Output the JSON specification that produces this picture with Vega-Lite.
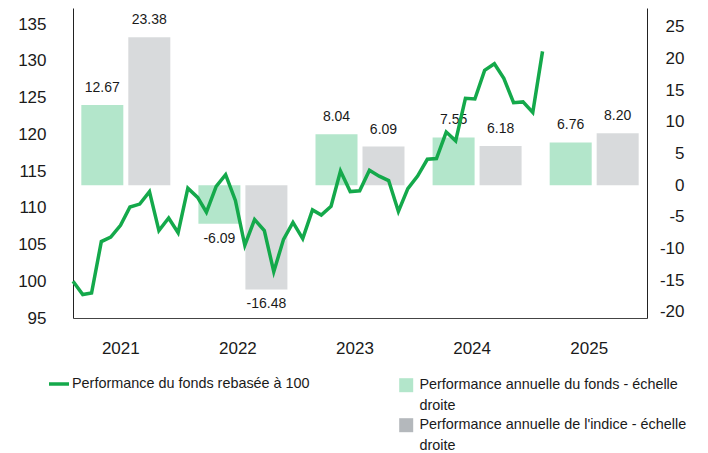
{
  "$schema": "https://vega.github.io/schema/vega-lite/v6.json",
  "width": 574,
  "height": 310,
  "autosize": {"type": "none"},
  "padding": {"left": 73, "top": 8, "right": 61, "bottom": 135},
  "background": "white",
  "datasets": {
    "bars": [
      {"year": "2021", "series": "Performance annuelle du fonds - échelle droite", "value": 12.67},
      {"year": "2021", "series": "Performance annuelle de l'indice - échelle droite", "value": 23.38},
      {"year": "2022", "series": "Performance annuelle du fonds - échelle droite", "value": -6.09},
      {"year": "2022", "series": "Performance annuelle de l'indice - échelle droite", "value": -16.48},
      {"year": "2023", "series": "Performance annuelle du fonds - échelle droite", "value": 8.04},
      {"year": "2023", "series": "Performance annuelle de l'indice - échelle droite", "value": 6.09},
      {"year": "2024", "series": "Performance annuelle du fonds - échelle droite", "value": 7.55},
      {"year": "2024", "series": "Performance annuelle de l'indice - échelle droite", "value": 6.18},
      {"year": "2025", "series": "Performance annuelle du fonds - échelle droite", "value": 6.76},
      {"year": "2025", "series": "Performance annuelle de l'indice - échelle droite", "value": 8.20}
    ],
    "line": [
      {"date": "2020-12-31", "value": 100},
      {"date": "2021-01-31", "value": 98.2},
      {"date": "2021-02-28", "value": 98.4},
      {"date": "2021-03-31", "value": 105.4},
      {"date": "2021-04-30", "value": 106},
      {"date": "2021-05-31", "value": 107.6},
      {"date": "2021-06-30", "value": 110.1},
      {"date": "2021-07-31", "value": 110.5},
      {"date": "2021-08-31", "value": 112.2},
      {"date": "2021-09-30", "value": 106.9},
      {"date": "2021-10-31", "value": 108.6},
      {"date": "2021-11-30", "value": 106.6},
      {"date": "2021-12-31", "value": 112.67},
      {"date": "2022-01-31", "value": 111.4},
      {"date": "2022-02-28", "value": 109.4},
      {"date": "2022-03-31", "value": 112.9},
      {"date": "2022-04-30", "value": 114.5},
      {"date": "2022-05-31", "value": 111},
      {"date": "2022-06-30", "value": 104.9},
      {"date": "2022-07-31", "value": 108.4},
      {"date": "2022-08-31", "value": 106.9},
      {"date": "2022-09-30", "value": 101.3},
      {"date": "2022-10-31", "value": 105.7},
      {"date": "2022-11-30", "value": 108},
      {"date": "2022-12-31", "value": 105.81},
      {"date": "2023-01-31", "value": 109.7},
      {"date": "2023-02-28", "value": 109},
      {"date": "2023-03-31", "value": 110.2},
      {"date": "2023-04-30", "value": 115},
      {"date": "2023-05-31", "value": 112.2},
      {"date": "2023-06-30", "value": 112.3},
      {"date": "2023-07-31", "value": 115.1},
      {"date": "2023-08-31", "value": 114.3},
      {"date": "2023-09-30", "value": 113.7},
      {"date": "2023-10-31", "value": 109.5},
      {"date": "2023-11-30", "value": 112.6},
      {"date": "2023-12-31", "value": 114.31},
      {"date": "2024-01-31", "value": 116.6},
      {"date": "2024-02-29", "value": 116.7},
      {"date": "2024-03-31", "value": 120.3},
      {"date": "2024-04-30", "value": 119.1},
      {"date": "2024-05-31", "value": 124.9},
      {"date": "2024-06-30", "value": 124.8},
      {"date": "2024-07-31", "value": 128.7},
      {"date": "2024-08-31", "value": 129.6},
      {"date": "2024-09-30", "value": 127.6},
      {"date": "2024-10-31", "value": 124.3},
      {"date": "2024-11-30", "value": 124.4},
      {"date": "2024-12-31", "value": 122.97},
      {"date": "2025-01-31", "value": 131.28}
    ]
  },
  "config": {
    "view": {"stroke": null},
    "font": "Liberation Sans",
    "style": {"guide-label": {"lineHeight": 21}},
    "axis": {
      "grid": false,
      "ticks": false,
      "tickSize": 0,
      "domainColor": "#222222",
      "domainWidth": 1,
      "labelColor": "#1a1a1a",
      "labelFont": "Liberation Sans",
      "labelFontSize": 17
    },
    "legend": {
      "labelFont": "Liberation Sans",
      "labelColor": "#1a1a1a",
      "labelFontSize": 14.4,
      "labelLimit": 500,
      "padding": 0
    },
    "locale": {
      "number": {"decimal": ".", "thousands": ",", "grouping": [3], "currency": ["$", ""], "minus": "-"}
    }
  },
  "layer": [
    {
      "data": {"name": "bars"},
      "encoding": {
        "x": {
          "field": "year",
          "type": "nominal",
          "scale": {"paddingInner": 0.24, "paddingOuter": 0.071},
          "axis": {"title": null, "labelAngle": 0, "labelPadding": 22, "labelOffset": -5, "domainColor": "#444444"}
        },
        "xOffset": {
          "field": "series",
          "type": "nominal",
          "scale": {
            "domain": ["Performance annuelle du fonds - échelle droite", "Performance annuelle de l'indice - échelle droite"],
            "paddingInner": 0.106,
            "paddingOuter": 0
          }
        },
        "y": {
          "field": "value",
          "type": "quantitative",
          "scale": {"domain": [-21, 28], "nice": false, "zero": false},
          "axis": {
            "orient": "right",
            "title": null,
            "values": [-20, -15, -10, -5, 0, 5, 10, 15, 20, 25],
            "labelAlign": "right",
            "labelPadding": 37
          }
        }
      },
      "layer": [
        {
          "mark": {"type": "bar"},
          "encoding": {
            "y2": {"datum": 0},
            "fillOpacity": {
              "field": "series",
              "type": "nominal",
              "scale": {
                "domain": ["Performance annuelle du fonds - échelle droite", "Performance annuelle de l'indice - échelle droite"],
                "range": [1, 0.52]
              },
              "legend": null
            },
            "fill": {
              "field": "series",
              "type": "nominal",
              "scale": {
                "domain": ["Performance annuelle du fonds - échelle droite", "Performance annuelle de l'indice - échelle droite"],
                "range": ["#b3e6cb", "#b4b8bc"]
              },
              "legend": {
                "orient": "none",
                "legendX": 326,
                "legendY": 370,
                "title": null,
                "symbolType": "square",
                "symbolSize": 196,
                "symbolStrokeWidth": 0,
                "symbolOpacity": 1,
                "labelOffset": 6,
                "rowPadding": 4,
                "labelExpr": "[slice(datum.label, 0, -7), 'droite']"
              }
            }
          }
        },
        {
          "transform": [{"filter": "datum.value >= 0"}],
          "mark": {"type": "text", "dy": -17, "fontSize": 14, "color": "#1a1a1a", "font": "Liberation Sans"},
          "encoding": {"text": {"field": "value", "type": "quantitative", "format": ".2f"}}
        },
        {
          "transform": [{"filter": "datum.value < 0"}],
          "mark": {"type": "text", "dy": 15, "fontSize": 14, "color": "#1a1a1a", "font": "Liberation Sans"},
          "encoding": {"text": {"field": "value", "type": "quantitative", "format": ".2f"}}
        }
      ]
    },
    {
      "data": {"name": "line"},
      "mark": {"type": "line", "strokeWidth": 3.5, "strokeJoin": "miter"},
      "encoding": {
        "x": {
          "field": "date",
          "type": "temporal",
          "scale": {
            "domain": [{"year": 2020, "month": 12, "date": 31, "utc": true}, {"year": 2025, "month": 12, "date": 29, "utc": true}],
            "nice": false
          },
          "axis": null
        },
        "y": {
          "field": "value",
          "type": "quantitative",
          "scale": {"domain": [95, 137.18], "nice": false, "zero": false},
          "axis": {
            "orient": "left",
            "title": null,
            "values": [95, 100, 105, 110, 115, 120, 125, 130, 135],
            "labelPadding": 27
          }
        },
        "stroke": {
          "datum": "Performance du fonds rebasée à 100",
          "type": "nominal",
          "scale": {"range": ["#14a94b"]},
          "legend": {
            "orient": "none",
            "legendX": -26,
            "legendY": 364,
            "title": null,
            "symbolType": "stroke",
            "symbolSize": 400,
            "symbolStrokeWidth": 3.5,
            "labelOffset": 1
          }
        }
      }
    }
  ],
  "resolve": {"scale": {"x": "independent", "y": "independent"}}
}
